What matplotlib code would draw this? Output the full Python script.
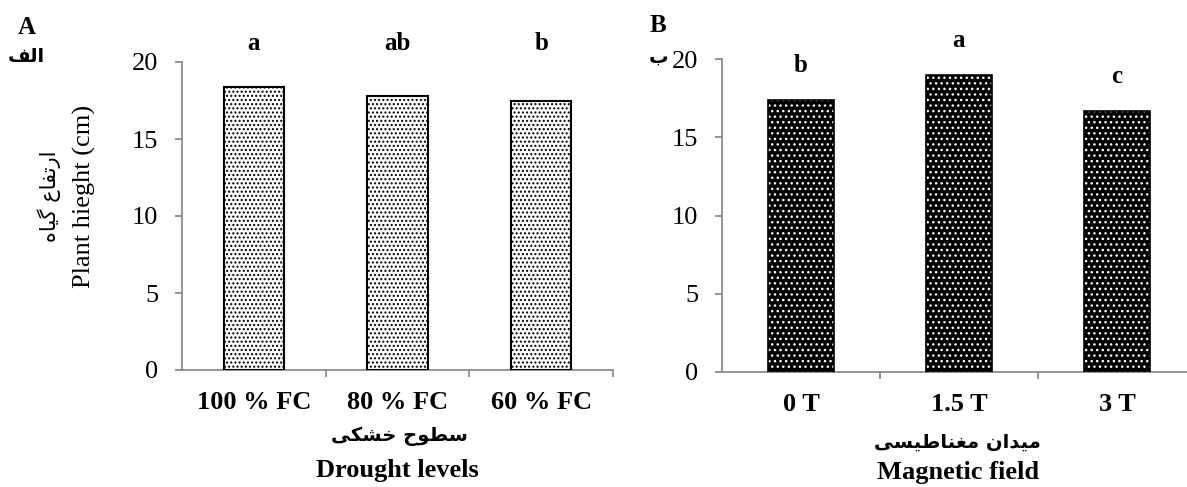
import matplotlib
matplotlib.use("Agg")
import matplotlib.pyplot as plt

# data
drought_levels = ["100 % FC", "80 % FC", "60 % FC"]
drought_height = [18.4, 17.8, 17.45]
drought_letters = ["a", "ab", "b"]

field_levels = ["0 T", "1.5 T", "3 T"]
field_height = [17.4, 19.0, 16.65]
field_letters = ["b", "a", "c"]

ylabel_en = "Plant hieght (cm)"
ylabel_fa = "ارتفاع گیاه"
xlabel_a_en = "Drought levels"
xlabel_a_fa = "سطوح خشکی"
xlabel_b_en = "Magnetic field"
xlabel_b_fa = "میدان مغناطیسی"
panel_a = ("A", "الف")
panel_b = ("B", "ب")

# matplotlib has no arabic shaping, so pick presentation forms by hand
DUAL = {'ب': 0xFE8F, 'ت': 0xFE95, 'ح': 0xFEA1, 'خ': 0xFEA5, 'س': 0xFEB1,
        'ش': 0xFEB5, 'ط': 0xFEC1, 'ع': 0xFEC9, 'غ': 0xFECD, 'ف': 0xFED1,
        'ل': 0xFEDD, 'م': 0xFEE1, 'ن': 0xFEE5, 'ه': 0xFEE9, 'ک': 0xFB8E,
        'گ': 0xFB92, 'ی': 0xFBFC}
RIGHT = {'ا': 0xFE8D, 'د': 0xFEA9, 'ر': 0xFEAD, 'و': 0xFEED}


def shape(s):
    out = []
    for i, ch in enumerate(s):
        if ch not in DUAL and ch not in RIGHT:
            out.append(ch)
            continue
        prev = s[i - 1] if i > 0 else ''
        nxt = s[i + 1] if i + 1 < len(s) else ''
        jp = prev in DUAL
        jn = ch in DUAL and (nxt in DUAL or nxt in RIGHT)
        if ch in RIGHT:
            out.append(chr(RIGHT[ch] + (1 if jp else 0)))
        else:
            k = 3 if (jp and jn) else 1 if jp else 2 if jn else 0
            out.append(chr(DUAL[ch] + k))
    return ''.join(out)[::-1]


W, H = 1187, 487
SERIF = ['Liberation Serif', 'DejaVu Sans']
ARAB = ['DejaVu Sans']
GREY = '#8c8c8c'

fig = plt.figure(figsize=(W / 100, H / 100), dpi=100)


def ftext(x, y, s, **kw):
    fig.text(x / W, 1 - y / H, s, ha='center', va='center', **kw)


def setup(ax, labels):
    ax.set_ylim(0, 20)
    ax.set_xlim(0.5, 3.5)
    for sp in ['top', 'right']:
        ax.spines[sp].set_visible(False)
    for sp in ['left', 'bottom']:
        ax.spines[sp].set_color(GREY)
        ax.spines[sp].set_linewidth(1.3)
    ax.set_yticks([0, 5, 10, 15, 20])
    ax.tick_params(axis='y', direction='out', length=5, width=1.3, color=GREY,
                   pad=12, labelsize=19)
    for t in ax.get_yticklabels():
        t.set_family(SERIF)
    ax.set_xticks([1, 2, 3])
    ax.set_xticklabels(labels, family=SERIF, fontweight='bold', fontsize=19)
    ax.tick_params(axis='x', which='major', length=0, pad=15)
    ax.set_xticks([1.5, 2.5, 3.5], minor=True)
    ax.tick_params(axis='x', which='minor', direction='out', length=5,
                   width=1.3, color=GREY)


# panel A
ax1 = fig.add_axes([182 / W, 1 - 370 / H, 431 / W, 308 / H])
x = [1, 2, 3]
ax1.bar(x, drought_height, width=0.42, color='white', edgecolor='black',
        hatch='....', linewidth=1.5, zorder=3)
setup(ax1, drought_levels)
for xi, lt in zip(x, drought_letters):
    ax1.text(xi, max(drought_height) + 2.8, lt, ha='center', va='center',
             family=SERIF, fontweight='bold', fontsize=18, clip_on=False)

# panel B
ax2 = fig.add_axes([722 / W, 1 - 372 / H, 474 / W, 313 / H])
ax2.bar(x, field_height, width=0.42, color='black', edgecolor='white',
        hatch='...', linewidth=0, zorder=3)
ax2.bar(x, field_height, width=0.42, fill=False, edgecolor='black',
        linewidth=1.2, zorder=4)
setup(ax2, field_levels)
for xi, v, lt in zip(x, field_height, field_letters):
    ax2.text(xi, v + 2.2, lt, ha='center', va='center',
             family=SERIF, fontweight='bold', fontsize=18, clip_on=False)

# labels
ftext(84, 196, ylabel_en, rotation=90, family=SERIF, fontsize=19)
ftext(49, 196, shape(ylabel_fa), rotation=90, family=ARAB, fontsize=15)
ftext(399, 436, shape(xlabel_a_fa), family=ARAB, fontweight='bold', fontsize=14)
ftext(397, 471, xlabel_a_en, family=SERIF, fontweight='bold', fontsize=19)
ftext(957, 442, shape(xlabel_b_fa), family=ARAB, fontweight='bold', fontsize=14)
ftext(958, 473, xlabel_b_en, family=SERIF, fontweight='bold', fontsize=19)

ftext(27, 28, panel_a[0], family=SERIF, fontweight='bold', fontsize=18)
ftext(26, 56, shape(panel_a[1]), family=ARAB, fontweight='bold', fontsize=14)
ftext(658, 26, panel_b[0], family=SERIF, fontweight='bold', fontsize=18)
ftext(659, 57, shape(panel_b[1]), family=ARAB, fontweight='bold', fontsize=14)

fig.savefig("out.png", dpi=100)
